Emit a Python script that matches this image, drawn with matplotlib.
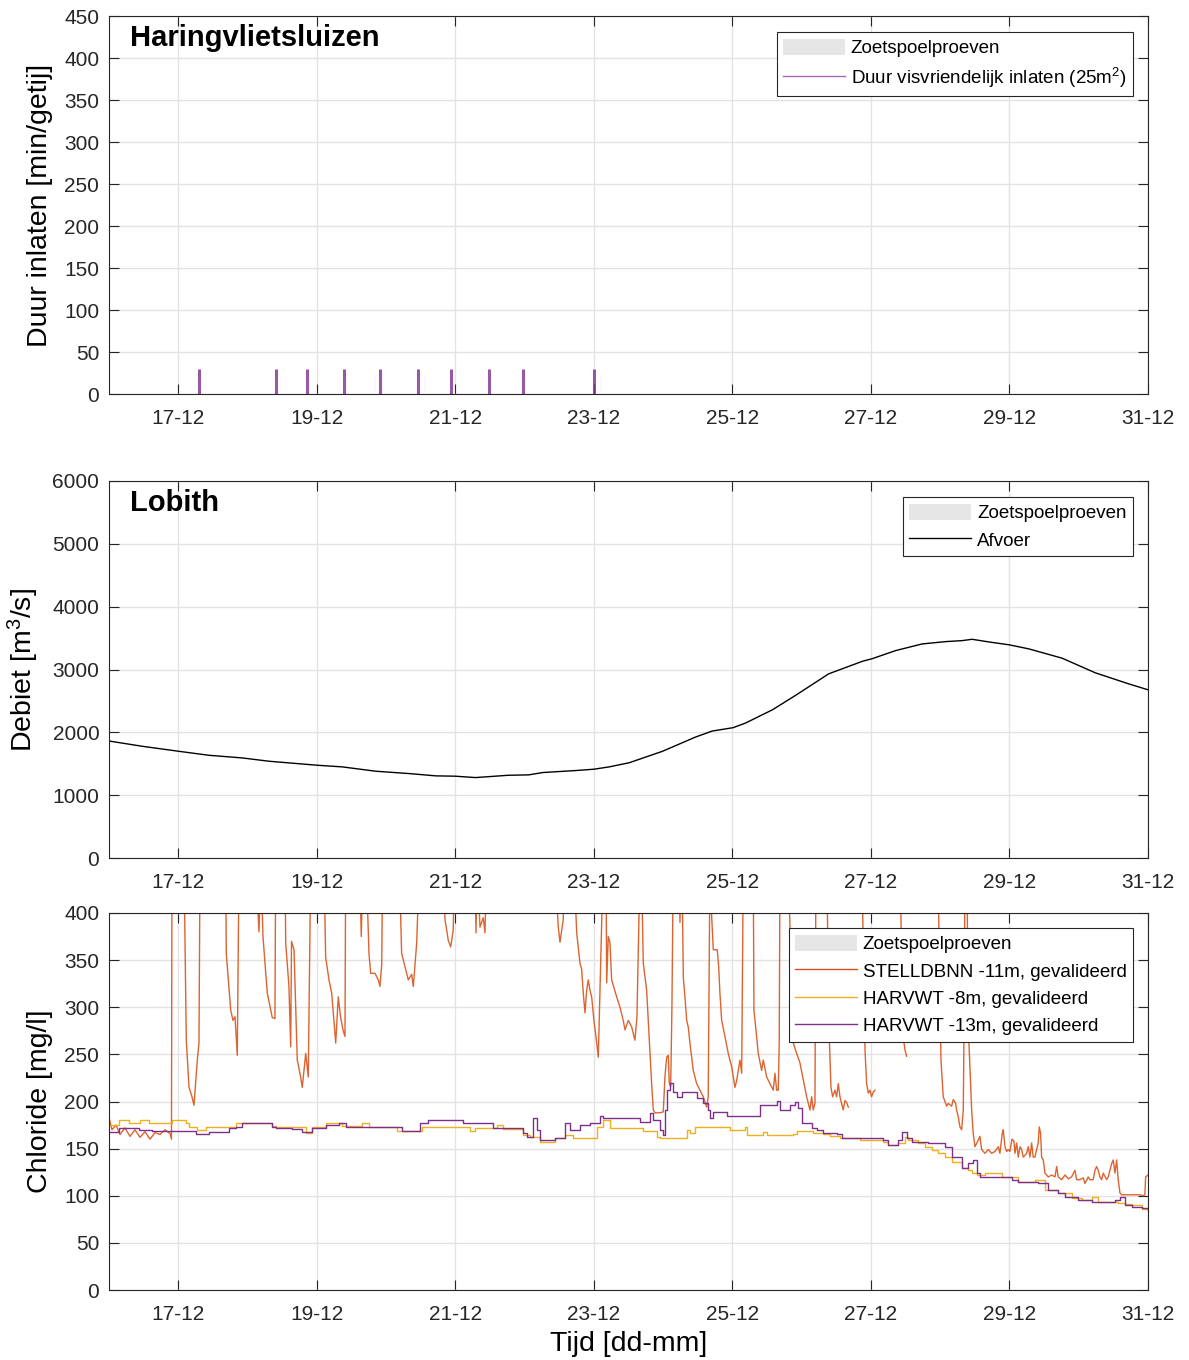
import numpy as np
import matplotlib
matplotlib.use("Agg")
import matplotlib.pyplot as plt
from matplotlib.patches import Patch
from matplotlib.lines import Line2D

plt.rcParams['font.family'] = ['Liberation Sans', 'DejaVu Sans']
plt.rcParams['mathtext.default'] = 'regular'

# ---------------- data (time = day of December) ----------------
xtick_days = [17, 19, 21, 23, 25, 27, 29, 31]
xtick_labels = ['17-12', '19-12', '21-12', '23-12', '25-12', '27-12', '29-12', '31-12']

# Haringvlietsluizen: duur visvriendelijk inlaten [min/getij]
inlaat_t = [17.30, 18.41, 18.86, 19.39, 19.91, 20.46, 20.94, 21.49, 21.98, 23.00]
inlaat_v = [30, 30, 30, 30, 30, 30, 30, 30, 30, 30]

# Lobith afvoer [m3/s]
afvoer_t = [16.00, 16.48, 17.01, 17.44, 17.92, 18.31, 19.01, 19.37, 19.85, 20.33,
            20.72, 21.00, 21.29, 21.77, 22.06, 22.26, 22.74, 23.00, 23.22, 23.51,
            23.99, 24.47, 24.71, 25.01, 25.19, 25.58, 25.91, 26.39, 26.88, 27.01,
            27.36, 27.74, 28.08, 28.32, 28.46, 28.70, 29.00, 29.28, 29.76, 30.24,
            30.72, 31.00]
afvoer_v = [1862, 1778, 1698, 1635, 1593, 1540, 1476, 1450, 1381, 1344,
            1307, 1302, 1280, 1317, 1323, 1360, 1392, 1413, 1450, 1516,
            1698, 1926, 2021, 2074, 2148, 2360, 2587, 2931, 3132, 3169,
            3302, 3407, 3444, 3460, 3481, 3439, 3392, 3328, 3180, 2947,
            2772, 2677]

# STELLDBNN -11m chloride [mg/l] (values above 400 run off the axis)
stell_t = [16.000, 16.043, 16.101, 16.159, 16.231, 16.303, 16.375, 16.448, 16.520, 16.592,
           16.664, 16.736, 16.808, 16.881, 16.902, 16.909, 17.083, 17.116, 17.155, 17.198,
           17.227, 17.275, 17.299, 17.314, 17.685, 17.693, 17.757, 17.790, 17.819, 17.852,
           17.877, 18.118, 18.165, 18.194, 18.223, 18.285, 18.357, 18.396, 18.406, 18.541,
           18.551, 18.598, 18.623, 18.635, 18.671, 18.718, 18.767, 18.790, 18.840, 18.877,
           18.912, 19.104, 19.128, 19.176, 19.215, 19.273, 19.310, 19.342, 19.378, 19.407,
           19.417, 19.619, 19.642, 19.667, 19.714, 19.753, 19.778, 19.840, 19.888, 19.912,
           19.937, 19.951, 20.191, 20.225, 20.273, 20.321, 20.370, 20.393, 20.442, 20.480,
           20.817, 20.851, 20.898, 20.933, 20.970, 20.985, 21.284, 21.298, 21.317, 21.356,
           21.403, 21.428, 21.452, 22.438, 22.486, 22.511, 22.558, 22.573, 22.713, 22.752,
           22.799, 22.824, 22.847, 22.872, 22.896, 22.919, 22.944, 22.968, 23.001, 23.030,
           23.064, 23.088, 23.113, 23.136, 23.175, 23.185, 23.208, 23.232, 23.257, 23.329,
           23.377, 23.424, 23.449, 23.497, 23.546, 23.569, 23.593, 23.622, 23.666, 23.687,
           23.713, 23.738, 23.762, 23.785, 23.810, 23.834, 23.858, 23.882, 23.954, 24.002,
           24.026, 24.051, 24.074, 24.089, 24.109, 24.127, 24.146, 24.233, 24.243, 24.257,
           24.272, 24.291, 24.315, 24.340, 24.363, 24.387, 24.435, 24.484, 24.532, 24.579,
           24.628, 24.651, 24.676, 24.701, 24.724, 24.781, 24.802, 24.820, 24.845, 24.893,
           24.940, 24.989, 25.037, 25.061, 25.109, 25.134, 25.157, 25.301, 25.311, 25.350,
           25.373, 25.422, 25.446, 25.494, 25.542, 25.590, 25.614, 25.639, 25.662, 25.676,
           25.687, 25.806, 25.879, 25.928, 25.975, 26.023, 26.072, 26.120, 26.144, 26.167,
           26.192, 26.206, 26.361, 26.398, 26.423, 26.447, 26.481, 26.505, 26.528, 26.553,
           26.577, 26.600, 26.625, 26.649, 26.673, 26.700,
           26.870, 26.914, 26.938, 26.961, 26.986, 27.010, 27.033, 27.058, 27.100,
           27.419, 27.466, 27.491, 27.515, 27.550,
           27.967, 28.011, 28.044, 28.093, 28.116, 28.165, 28.188, 28.223, 28.237, 28.260,
           28.285, 28.310, 28.333, 28.347, 28.357, 28.386, 28.405, 28.429, 28.454, 28.477,
           28.502, 28.549, 28.574, 28.598, 28.646, 28.694, 28.743, 28.790, 28.838, 28.862,
           28.896, 28.910, 28.935, 28.959, 28.982, 29.007, 29.036, 29.065, 29.079, 29.104,
           29.127, 29.151, 29.176, 29.199, 29.248, 29.271, 29.296, 29.320, 29.343, 29.368,
           29.392, 29.415, 29.430, 29.450, 29.464, 29.488, 29.512, 29.560, 29.609, 29.657,
           29.681, 29.704, 29.753, 29.801, 29.849, 29.897, 29.945, 29.970, 30.017, 30.065,
           30.090, 30.137, 30.162, 30.209, 30.234, 30.258, 30.282, 30.306, 30.331, 30.354,
           30.403, 30.426, 30.475, 30.498, 30.523, 30.547, 30.570, 30.595, 30.619, 30.739,
           30.883, 30.927, 30.955, 30.966, 31.000]
stell_v = [183, 170, 175, 165, 172, 163, 170, 162, 168, 160,
           167, 165, 170, 166, 160, 450, 450, 265, 215, 205,
           196, 244, 262, 450, 450, 357, 297, 286, 290, 249,
           450, 450, 380, 450, 375, 315, 289, 288, 450, 450,
           368, 322, 258, 370, 361, 244, 226, 215, 251, 226,
           450, 450, 353, 329, 315, 262, 311, 290, 276, 269,
           450, 450, 375, 450, 450, 357, 336, 336, 329, 322,
           345, 450, 450, 357, 343, 329, 335, 322, 368, 450,
           450, 393, 371, 364, 382, 450, 450, 379, 450, 385,
           395, 379, 450, 450, 385, 369, 393, 450, 450, 379,
           347, 340, 315, 294, 318, 329, 318, 311, 286, 269,
           247, 318, 390, 450, 450, 326, 375, 369, 329, 311,
           300, 286, 276, 286, 279, 272, 265, 290, 450, 450,
           347, 332, 318, 286, 251, 219, 191, 188, 188, 189,
           226, 247, 249, 219, 216, 300, 450, 450, 390, 450,
           450, 332, 311, 286, 279, 262, 233, 219, 212, 205,
           194, 205, 450, 396, 361, 361, 343, 315, 286, 269,
           251, 237, 215, 222, 244, 230, 450, 450, 297, 269,
           251, 233, 244, 226, 219, 212, 230, 212, 212, 262,
           450, 450, 262, 251, 241, 223, 205, 191, 205, 191,
           198, 450, 450, 269, 215, 205, 212, 205, 219, 205,
           198, 191, 201, 199, 194, np.nan,
           450, 255, 219, 209, 212, 205, 210, 212, np.nan,
           450, 269, 255, 248, np.nan,
           450, 244, 205, 195, 198, 195, 202, 198, 191, 184,
           173, 170, 191, 300, 450, 450, 280, 237, 191, 166,
           152, 159, 163, 149, 145, 149, 145, 147, 152, 145,
           166, 170, 152, 147, 149, 147, 160, 158, 145, 156,
           141, 152, 149, 141, 145, 152, 141, 156, 141, 141,
           149, 156, 173, 166, 141, 138, 124, 120, 122, 120,
           131, 120, 117, 122, 118, 120, 127, 117, 117, 119,
           113, 120, 117, 117, 127, 131, 127, 120, 117, 124,
           117, 120, 134, 138, 124, 138, 117, 103, 101, 101,
           101, 100, 101, 120, 122]

# HARVWT -8m chloride [mg/l]
harv8_t = [16.000, 16.144, 16.289, 16.443, 16.577, 16.914, 17.107, 17.155, 17.275, 17.396,
           17.829, 17.925, 18.358, 18.406, 18.839, 18.936, 19.128, 19.369, 19.657, 19.754,
           20.153, 20.514, 21.212, 21.284, 21.597, 21.693, 21.982, 22.078, 22.222, 22.439,
           22.583, 22.703, 23.040, 23.137, 23.233, 23.714, 23.906, 23.954, 24.339, 24.387,
           24.459, 24.965, 25.181, 25.205, 25.446, 25.494, 25.879, 25.927, 26.168, 26.312,
           26.408, 26.553, 26.841, 27.178, 27.251, 27.395, 27.492, 27.540, 27.684, 27.780,
           27.877, 27.973, 28.069, 28.165, 28.310, 28.406, 28.454, 28.526, 28.647, 28.887,
           29.128, 29.369, 29.513, 29.705, 29.898, 30.042, 30.187, 30.283, 30.572, 30.668,
           30.764, 30.909, 31.000]
harv8_v = [175.1, 180.4, 177.5, 180.4, 176.8, 180.4, 176.8, 173.3, 169.8, 173.3,
           176.8, 177.5, 174.0, 172.6, 166.9, 173.3, 176.8, 174.0, 176.8, 172.6,
           169.1, 172.6, 169.1, 171.5, 175.1, 170.5, 164.5, 162.7, 157.4, 160.9,
           164.5, 160.9, 173.3, 180.4, 171.5, 169.1, 162.7, 161.3, 169.8, 166.2,
           172.6, 169.8, 173.3, 164.5, 168.0, 164.5, 165.5, 169.1, 166.9, 165.5,
           163.4, 160.9, 159.2, 157.4, 153.8, 155.6, 162.7, 159.2, 155.6, 152.1,
           148.5, 145.0, 141.5, 136.2, 129.1, 127.3, 123.8, 122.0, 123.8, 120.2,
           114.9, 116.7, 106.1, 103.3, 97.3, 95.5, 99.0, 93.7, 92.0, 91.2,
           90.2, 85.6, 84.1]

# HARVWT -13m chloride [mg/l]
harv13_t = [16.000, 16.144, 16.433, 16.626, 17.251, 17.444, 17.732, 17.829, 17.925, 18.358,
            18.406, 18.647, 18.791, 18.936, 19.128, 19.320, 19.417, 20.225, 20.490, 20.610,
            21.115, 21.549, 21.982, 22.030, 22.126, 22.174, 22.222, 22.439, 22.583, 22.655,
            22.800, 22.944, 23.088, 23.137, 23.665, 23.810, 23.858, 23.954, 24.002, 24.026,
            24.050, 24.098, 24.147, 24.195, 24.267, 24.483, 24.580, 24.652, 24.676, 24.724,
            24.917, 25.398, 25.638, 25.687, 25.831, 25.903, 25.951, 26.000, 26.144, 26.216,
            26.312, 26.505, 26.577, 27.178, 27.251, 27.395, 27.444, 27.516, 27.588, 27.829,
            28.069, 28.165, 28.310, 28.406, 28.478, 28.526, 28.575, 29.032, 29.128, 29.417,
            29.561, 29.705, 29.802, 29.994, 30.187, 30.523, 30.596, 30.668, 30.764, 30.909,
            31.000]
harv13_v = [168.0, 171.5, 169.8, 169.1, 165.5, 168.0, 171.5, 173.3, 177.5, 173.3,
            171.5, 170.5, 168.0, 171.5, 175.1, 177.5, 172.6, 169.1, 176.8, 180.4,
            176.8, 171.5, 166.2, 162.7, 182.1, 169.8, 159.2, 160.9, 176.8, 169.8,
            175.1, 177.5, 184.6, 182.1, 178.6, 187.4, 180.4, 169.8, 164.5, 191.0,
            212.2, 219.3, 210.4, 205.1, 210.4, 203.4, 198.1, 191.0, 182.1, 189.2,
            185.0, 196.3, 200.9, 191.0, 196.3, 199.8, 192.8, 176.8, 171.5, 169.8,
            166.9, 165.5, 161.3, 159.2, 153.8, 159.2, 168.0, 160.9, 157.4, 155.6,
            152.1, 141.5, 129.1, 134.4, 137.9, 123.8, 120.2, 116.7, 114.9, 113.2,
            106.1, 102.6, 99.0, 95.5, 93.7, 95.5, 99.0, 90.2, 88.4, 86.7,
            84.9]

# ---------------- styling ----------------
C_PURPLE = '#7E2F8E'
C_ORANGE = '#D95319'
C_YELLOW = '#EDB120'
C_GREY_PATCH = '#E6E6E6'
C_AX = '#262626'
C_GRID = '#E3E3E3'

fig = plt.figure(figsize=(11.89, 13.60), dpi=100)
L, W = 109 / 1189, 1039 / 1189
ax1 = fig.add_axes([L, 1 - 394 / 1360, W, 378 / 1360])
ax2 = fig.add_axes([L, 1 - 858 / 1360, W, 377 / 1360])
ax3 = fig.add_axes([L, 1 - 1290 / 1360, W, 377 / 1360])

TICK_FS = 15
LABEL_FS = 20.5
TITLE_FS = 21
LEG_FS = 13.5


def style(ax, ylim, yticks):
    ax.set_xlim(16, 31)
    ax.set_ylim(*ylim)
    ax.set_xticks(xtick_days)
    ax.set_xticklabels(xtick_labels)
    ax.set_yticks(yticks)
    ax.grid(True, color=C_GRID, linewidth=1.0)
    ax.set_axisbelow(True)
    ax.tick_params(direction='in', length=7.5, width=0.8, top=True, right=True,
                   colors=C_AX, labelsize=TICK_FS, pad=7)
    ax.tick_params(axis='x', pad=11)
    for s in ax.spines.values():
        s.set_color(C_AX)
        s.set_linewidth(0.8)


def legend(ax, handles, labels, anchor):
    lg = ax.legend(handles, labels, loc='upper right', bbox_to_anchor=anchor,
                   borderaxespad=0, fontsize=LEG_FS, fancybox=False, framealpha=1,
                   edgecolor=C_AX, handlelength=3.3, handleheight=1.0,
                   handletextpad=0.3, labelspacing=0.45, borderpad=0.35)
    lg.get_frame().set_linewidth(0.8)
    return lg


# --- panel 1: Haringvlietsluizen
style(ax1, (0, 450), np.arange(0, 451, 50))
ax1.vlines(inlaat_t, 0, inlaat_v, color=C_PURPLE, linewidth=2.2, alpha=0.8)
ax1.set_ylabel('Duur inlaten [min/getij]', fontsize=LABEL_FS, labelpad=8)
ax1.text(0.02, 0.978, 'Haringvlietsluizen', transform=ax1.transAxes, fontsize=TITLE_FS,
         fontweight='bold', va='top', ha='left')
legend(ax1,
       [Patch(facecolor=C_GREY_PATCH, edgecolor='none'),
        Line2D([], [], color='#A36BB5', linewidth=1.0)],
       ['Zoetspoelproeven', 'Duur visvriendelijk inlaten (25m$^2$)'],
       (0.9856, 0.9577))

# --- panel 2: Lobith
style(ax2, (0, 6000), np.arange(0, 6001, 1000))
ax2.plot(afvoer_t, afvoer_v, color='black', linewidth=1.0)
ax2.set_ylabel('Debiet [m$^3$/s]', fontsize=LABEL_FS, labelpad=8)
ax2.text(0.02, 0.978, 'Lobith', transform=ax2.transAxes, fontsize=TITLE_FS,
         fontweight='bold', va='top', ha='left')
legend(ax2,
       [Patch(facecolor=C_GREY_PATCH, edgecolor='none'),
        Line2D([], [], color='black', linewidth=1.0)],
       ['Zoetspoelproeven', 'Afvoer'],
       (0.9856, 0.9576))

# --- panel 3: Chloride
style(ax3, (0, 400), np.arange(0, 401, 50))
ax3.plot(stell_t, stell_v, color=C_ORANGE, linewidth=1.0, alpha=0.9)
ax3.plot(harv8_t, harv8_v, color=C_YELLOW, linewidth=1.0, drawstyle='steps-post')
ax3.plot(harv13_t, harv13_v, color=C_PURPLE, linewidth=1.0, drawstyle='steps-post')
ax3.set_ylabel('Chloride [mg/l]', fontsize=LABEL_FS, labelpad=8)
ax3.set_xlabel('Tijd [dd-mm]', fontsize=LABEL_FS, labelpad=5)
legend(ax3,
       [Patch(facecolor=C_GREY_PATCH, edgecolor='none'),
        Line2D([], [], color=C_ORANGE, linewidth=1.0),
        Line2D([], [], color=C_YELLOW, linewidth=1.0),
        Line2D([], [], color=C_PURPLE, linewidth=1.0)],
       ['Zoetspoelproeven', 'STELLDBNN -11m, gevalideerd',
        'HARVWT -8m, gevalideerd', 'HARVWT -13m, gevalideerd'],
       (0.9856, 0.960))

fig.savefig('out.png', dpi=100)
